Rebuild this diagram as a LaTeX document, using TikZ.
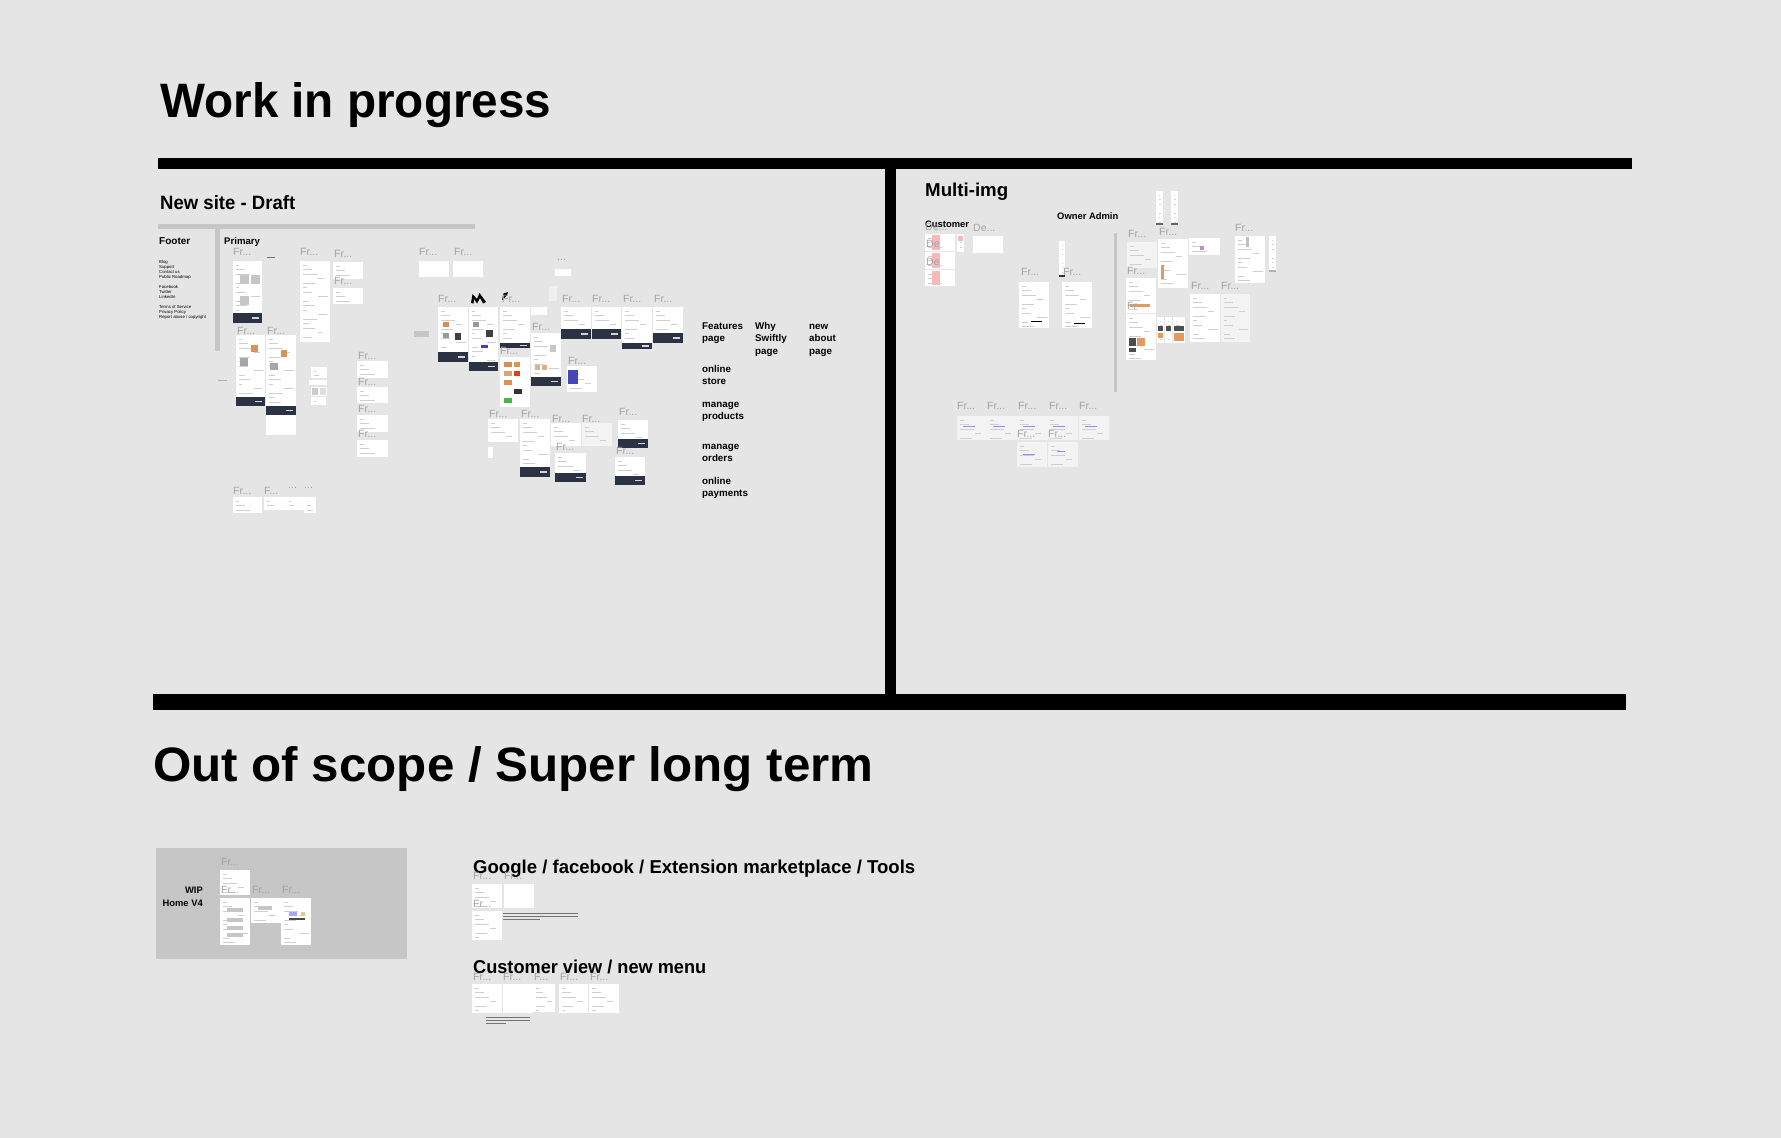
\documentclass[tikz,border=0pt]{standalone}
\usepackage{fontspec}
\usepackage{graphicx}
\setmainfont{Liberation Sans}
\definecolor{bg}{HTML}{E5E5E5}
\definecolor{navy}{HTML}{2B3243}
\definecolor{lblgray}{HTML}{A3A3A3}
\definecolor{barg}{HTML}{C6C6C6}
\definecolor{lframe}{HTML}{F3F3F3}
\definecolor{pinkish}{HTML}{F6B8B8}
\definecolor{orng}{HTML}{E39A5C}
\tikzset{
  lbl/.style={anchor=north west, inner sep=0pt, text=lblgray, font=\fontsize{10.5}{10.5}\selectfont},
  sect/.style={anchor=base west, inner sep=0pt, text=black},
  small/.style={anchor=north west, inner sep=0pt, font=\bfseries\fontsize{9.8}{12.5}\selectfont, align=left},
  tiny/.style={anchor=base west, inner sep=0pt, font=\fontsize{4.3}{4.3}\selectfont},
  txt/.style={draw=gray!38, line width=0.6pt},
}
\newcommand{\Frm}[5][white]{%
  \fill[#1] (#2,#3) rectangle (#4,#5);
  \begin{scope}
    \clip (#2+2,#3+2) rectangle (#4-2,#5-2);
    \foreach \k in {0,...,40}{
      \pgfmathsetmacro{\ll}{(#4-#2)*(0.12+0.09*mod(\k*7,5))}
      \pgfmathsetmacro{\oo}{(#4-#2)*0.5*(mod(\k,4)==3)}
      \draw[txt] (#2+3+\oo,#3+4+\k*4.5) -- ++(\ll,0);
    }
  \end{scope}}
\newcommand{\Drk}[4]{%
  \fill[navy] (#1,#2) rectangle (#3,#4);
  \fill[white!80!navy] ({#3-10},{(#2+#4)/2-1}) rectangle ({#3-3},{(#2+#4)/2+0.6});}
\newcommand{\Lbl}[3]{\node[lbl] at (#1,#2) {#3};}
\begin{document}
\begin{tikzpicture}[x=1pt,y=-1pt]
\fill[bg] (0,0) rectangle (1781,1138);
\useasboundingbox (0,0) rectangle (1781,1138);

% ---------- headings and bars ----------
\node[sect] (t1) at (160,117) {\resizebox{391pt}{35pt}{\bfseries Work in progress}};
\fill[black] (158,158) rectangle (1632,169);
\fill[black] (885,169) rectangle (896,694);
\fill[black] (153,694) rectangle (1626,710);
\node[sect] (t2) at (153,781) {\resizebox{720pt}{35pt}{\bfseries Out of scope / Super long term}};

% ---------- New site - Draft ----------
\node[sect] (ns) at (160,209) {\resizebox{135pt}{14pt}{\bfseries New site - Draft}};
\fill[barg] (158,224) rectangle (475,229);
\fill[barg] (215,229) rectangle (220,351);
\node[sect, font=\bfseries\fontsize{10}{10}\selectfont] (footer) at (159,244) {Footer};
\node[sect, font=\bfseries\fontsize{9.6}{10}\selectfont] (primary) at (224,244) {Primary};
\node[tiny] at (159,263.5) {Blog};
\node[tiny] at (159,268.5) {Support};
\node[tiny] at (159,273.5) {Contact us};
\node[tiny] at (159,278.5) {Public Roadmap};
\node[tiny] at (159,288.5) {Facebook};
\node[tiny] at (159,293.5) {Twitter};
\node[tiny] at (159,298.5) {LinkedIn};
\node[tiny] at (159,308.5) {Terms of Service};
\node[tiny] at (159,313.5) {Privacy Policy};
\node[tiny] at (159,318.5) {Report abuse / copyright};

% column 1
\Lbl{233}{248}{Fr...}
\Frm{233}{261}{262}{313}
\fill[gray!45] (240,275) rectangle (249,284);
\fill[gray!45] (251,275) rectangle (260,284);
\fill[gray!45] (240,296) rectangle (249,305);
\Drk{233}{313}{262}{323}
\draw[black!55, line width=0.6pt] (267,257) -- (275,257);
\Lbl{300}{248}{Fr...}
\Frm{300}{261}{330}{342}
\Lbl{334}{250}{Fr...}
\Frm{333}{262}{363}{279}
\Lbl{334}{277}{Fr...}
\Frm{333}{288}{363}{304}
\Lbl{237}{327}{Fr...}
\Frm{236}{335}{265}{397}
\fill[gray!70] (240,358) rectangle (248,366);
\fill[orng!70!brown] (251,345) rectangle (258,352);
\Drk{236}{397}{265}{406}
\Lbl{267}{327}{Fr...}
\Frm{266}{335}{296}{406}
\fill[gray!70] (270,363) rectangle (278,370);
\fill[orng!70!brown] (281,350) rectangle (287,357);
\Drk{266}{406}{296}{415}
\fill[white] (266,415) rectangle (296,435);
\draw[gray!60, line width=0.8pt] (218,380) -- (227,380);
\Frm{311}{367}{327}{378}
\Frm{309}{380}{327}{385}
\fill[white] (311,387) rectangle (327,396);
\fill[gray!40] (312,388) rectangle (318,395);
\fill[gray!25] (320,388) rectangle (326,395);
\Frm{311}{397}{326}{405}
\Lbl{358}{352}{Fr...}
\Frm{357}{361}{388}{378}
\Lbl{358}{378}{Fr...}
\Frm{357}{387}{388}{403}
\Lbl{358}{405}{Fr...}
\Frm{357}{415}{388}{432}
\Lbl{358}{430}{Fr...}
\Frm{357}{440}{388}{457}
\Lbl{233}{487}{Fr...}
\Frm{233}{497}{262}{513}
\Lbl{264}{487}{F...}
\Frm{264}{497}{286}{510}
\Lbl{288}{487}{...}
\Frm{286}{497}{304}{510}
\Lbl{304}{487}{...}
\Frm{304}{497}{316}{513}

% middle cluster
\Lbl{419}{248}{Fr...}
\fill[white] (419,261) rectangle (449,277);
\Lbl{454}{248}{Fr...}
\fill[white] (453,261) rectangle (483,277);
\Lbl{557}{259}{...}
\fill[white] (555,269) rectangle (571,276);
\fill[gray!12] (549,286) rectangle (557,301);
\fill[barg] (414,331) rectangle (429,337);
\Lbl{438}{295}{Fr...}
\Frm{438}{307}{468}{352}
\fill[orng!60!brown] (443,322) rectangle (449,327);
\fill[gray!80] (443,333) rectangle (449,338);
\fill[black!75] (455,333) rectangle (461,340);
\Drk{438}{352}{468}{362}
\Frm{469}{307}{498}{362}
\fill[gray!80] (473,322) rectangle (479,327);
\fill[black!75] (486,330) rectangle (493,337);
\fill[blue!50!gray] (481,345) rectangle (488,348);
\Drk{469}{362}{498}{371}
\fill[black] (471,303) -- (472.5,294) -- (477,299) -- (479.5,293) -- (486,302) -- (483,303.5) -- (480,298) -- (477,303.5) -- (474,299) -- (473.5,303.5) -- cycle;
\fill[black] (502,300) -- (503.5,293.5) -- (508,292) -- (507,295.5) -- cycle;
\Lbl{502}{295}{Fr...}
\Frm{500}{307}{530}{343}
\Drk{500}{343}{530}{348}
\Lbl{500}{347}{Fr...}
\fill[white] (500,357) rectangle (530,407);
\fill[orng!60!brown] (504,362) rectangle (512,367);
\fill[orng!80!brown] (514,362) rectangle (520,367);
\fill[brown!70] (504,371) rectangle (512,376);
\fill[red!50!brown] (514,371) rectangle (520,376);
\fill[orng!70!brown] (504,380) rectangle (512,385);
\fill[black!80] (514,389) rectangle (522,394);
\fill[green!40!gray] (504,398) rectangle (512,403);
\fill[white] (531,307) rectangle (547,315);
\Lbl{532}{323}{Fr...}
\Frm{531}{333}{561}{377}
\fill[gray!45] (550,345) rectangle (556,352);
\fill[brown!60] (535,365) rectangle (540,370);
\fill[brown!60] (542,365) rectangle (547,370);
\Drk{531}{377}{561}{386}
\Lbl{562}{295}{Fr...}
\Frm{561}{307}{591}{329}
\Drk{561}{329}{591}{339}
\Lbl{592}{295}{Fr...}
\Frm{592}{307}{621}{329}
\Drk{592}{329}{621}{339}
\Lbl{623}{295}{Fr...}
\Frm{622}{307}{652}{343}
\Drk{622}{343}{652}{349}
\Lbl{654}{295}{Fr...}
\Frm{653}{307}{683}{333}
\Drk{653}{333}{683}{343}
\Lbl{568}{357}{Fr...}
\Frm{567}{366}{597}{392}
\fill[blue!45!gray] (568,370) rectangle (578,384);
\Lbl{489}{410}{Fr...}
\Frm{488}{419}{518}{442}
\Lbl{521}{410}{Fr...}
\Frm{520}{419}{550}{467}
\Drk{520}{467}{550}{477}
\Lbl{552}{415}{Fr...}
\Frm{551}{423}{581}{446}
\Lbl{582}{415}{Fr...}
\Frm[lframe]{582}{423}{612}{446}
\Lbl{619}{408}{Fr...}
\Frm{618}{420}{648}{439}
\Drk{618}{439}{648}{448}
\Lbl{556}{443}{Fr...}
\Frm{555}{453}{586}{473}
\Drk{555}{473}{586}{482}
\Lbl{616}{447}{Fr...}
\Frm{615}{457}{645}{476}
\Drk{615}{476}{645}{485}
\fill[white] (488,447) rectangle (493,458);

% right labels
\node[small] (feat) at (702,320.3) {\strut Features\\page};
\node[small] (why) at (755,320.3) {\strut Why\\Swiftly\\page};
\node[small] (about) at (809,320.3) {\strut new\\about\\page};
\node[small] (store) at (702,363.3) {\strut online\\store};
\node[small] (prod) at (702,398.3) {\strut manage\\products};
\node[small] (orders) at (702,440.3) {\strut manage\\orders};
\node[small] (pay) at (702,475.3) {\strut online\\payments};

% ---------- Multi-img ----------
\node[sect] (mi) at (925,196) {\resizebox{83pt}{13.5pt}{\bfseries Multi-img}};
\node[sect, font=\bfseries\fontsize{9.4}{10}\selectfont] (cust) at (925,227) {Customer};
\node[sect, font=\bfseries\fontsize{9.4}{10}\selectfont] (owner) at (1057,219) {Owner Admin};
\fill[barg] (1114,233) rectangle (1117,392);
\Lbl{925}{223}{De...}
\Lbl{973}{224}{De...}
\Frm{925}{234}{955}{251}
\fill[pinkish] (932,235) rectangle (940,250);
\Frm{925}{252}{955}{269}
\fill[pinkish] (932,253) rectangle (940,268);
\Frm{925}{270}{955}{286}
\fill[pinkish] (932,271) rectangle (940,285);
\Lbl{926}{240}{De}
\Lbl{926}{258}{De}
\Frm{957}{234}{964}{252}
\fill[pinkish] (958,236) rectangle (963,241);
\fill[white] (973,236) rectangle (1003,253);
\Frm{1059}{241}{1065}{277}
\fill[black!80] (1059,275) rectangle (1065,277);
\Lbl{1021}{268}{Fr...}
\Frm{1019}{282}{1049}{328}
\draw[black, line width=0.9pt] (1031,321) -- (1042,321);
\Lbl{1063}{268}{Fr...}
\Frm{1062}{282}{1092}{328}
\draw[black, line width=0.9pt] (1074,323) -- (1085,323);
% owner admin right
\Frm{1156}{191}{1163}{225}
\fill[black!60] (1156,223) rectangle (1163,225);
\Frm{1171}{191}{1178}{225}
\fill[black!60] (1171,223) rectangle (1178,225);
\Lbl{1128}{230}{Fr...}
\Frm[lframe]{1127}{242}{1157}{268}
\Lbl{1159}{228}{Fr...}
\Frm{1158}{239}{1188}{288}
\fill[orng] (1161,265) rectangle (1164,279);
\Frm{1189}{238}{1220}{255}
\fill[violet!45] (1200,246) rectangle (1204,250);
\Lbl{1235}{224}{Fr...}
\Frm{1235}{236}{1265}{283}
\fill[gray!50] (1246,237) rectangle (1249,247);
\Frm{1269}{236}{1276}{272}
\fill[gray!60] (1269,270) rectangle (1276,272);
\Lbl{1127}{267}{Fr...}
\Frm{1126}{278}{1156}{313}
\fill[orng] (1130,304) rectangle (1150,307);
\Lbl{1127}{302}{Fr}
\Frm{1126}{314}{1156}{360}
\fill[black!70] (1129,338) rectangle (1136,346);
\fill[orng] (1137,338) rectangle (1145,346);
\fill[black!70] (1129,348) rectangle (1136,352);
\Frm{1157}{317}{1164}{343}
\fill[black!70] (1158,326) rectangle (1163,331);
\fill[orng] (1158,333) rectangle (1163,338);
\Frm{1165}{317}{1172}{343}
\fill[black!70] (1166,326) rectangle (1171,331);
\Frm{1173}{317}{1185}{343}
\fill[black!70] (1174,326) rectangle (1184,331);
\fill[orng] (1174,333) rectangle (1184,341);
\Lbl{1191}{282}{Fr...}
\Frm{1190}{294}{1220}{342}
\Lbl{1221}{282}{Fr...}
\Frm[lframe]{1221}{294}{1250}{342}
% bottom rows
\Lbl{957}{402}{Fr...}
\Frm[lframe]{957}{416}{987}{440}
\Lbl{987}{402}{Fr...}
\Frm[lframe]{987}{416}{1017}{440}
\Lbl{1018}{402}{Fr...}
\Frm[lframe]{1017}{416}{1047}{440}
\Lbl{1049}{402}{Fr...}
\Frm[lframe]{1047}{416}{1078}{440}
\Lbl{1079}{402}{Fr...}
\Frm[lframe]{1079}{416}{1109}{440}
\foreach \xx in {963,993,1023,1053,1085}{\draw[blue!45, line width=0.8pt] (\xx,426) -- ++(12,0);}
\Lbl{1017}{430}{Fr...}
\Frm[lframe]{1017}{442}{1047}{467}
\Lbl{1048}{430}{Fr...}
\Frm[lframe]{1048}{442}{1078}{467}
\draw[blue!45, line width=0.8pt] (1023,454) -- ++(12,0);
\draw[blue!45, line width=0.8pt] (1057,451) -- ++(8,0);

% ---------- Out of scope ----------
\fill[barg] (156,848) rectangle (407,959);
\node[anchor=base east, inner sep=0pt, font=\bfseries\fontsize{9.4}{10}\selectfont] (wip) at (203,893) {WIP};
\node[anchor=base east, inner sep=0pt, font=\bfseries\fontsize{9.4}{10}\selectfont] (home) at (203,906) {Home V4};
\Lbl{221}{858}{Fr...}
\Frm{220}{870}{250}{895}
\Lbl{221}{886}{Fr...}
\Frm{220}{898}{250}{945}
\fill[gray!45] (227,908) rectangle (243,912);
\fill[gray!45] (227,918) rectangle (243,922);
\fill[gray!45] (227,926) rectangle (243,930);
\fill[gray!45] (227,933) rectangle (243,937);
\Lbl{252}{886}{Fr...}
\Frm{251}{898}{281}{923}
\fill[gray!45] (258,906) rectangle (272,910);
\Lbl{282}{886}{Fr...}
\Frm{281}{898}{311}{945}
\fill[blue!35] (289,912) rectangle (297,916);
\fill[orng!60] (301,912) rectangle (305,916);
\fill[black!70] (289,918) rectangle (305,920);

\node[sect] (goo) at (473,873) {\resizebox{442pt}{13.5pt}{\bfseries Google / facebook / Extension marketplace / Tools}};
\Lbl{473}{872}{Fr...}
\Lbl{504}{872}{Fr...}
\Frm{472}{884}{502}{908}
\fill[white] (504,884) rectangle (534,908);
\Lbl{473}{900}{Fr...}
\Frm{472}{911}{502}{940}
\draw[black!55, line width=0.7pt] (503,913) -- (578,913);
\draw[black!55, line width=0.7pt] (503,916) -- (578,916);
\draw[black!55, line width=0.7pt] (503,919) -- (540,919);

\node[sect] (cv) at (473,973) {\resizebox{233pt}{13.5pt}{\bfseries Customer view / new menu}};
\Lbl{473}{973}{Fr...}
\Lbl{503}{973}{Fr...}
\Lbl{534}{973}{F...}
\Lbl{560}{973}{Fr...}
\Lbl{590}{973}{Fr...}
\Frm{472}{984}{502}{1013}
\fill[white] (503,984) rectangle (533,1013);
\Frm{533}{984}{555}{1012}
\Frm{559}{984}{588}{1013}
\Frm{589}{984}{619}{1013}
\draw[black!55, line width=0.7pt] (486,1017) -- (530,1017);
\draw[black!55, line width=0.7pt] (486,1020) -- (530,1020);
\draw[black!55, line width=0.7pt] (486,1023) -- (506,1023);
\end{tikzpicture}
\end{document}
